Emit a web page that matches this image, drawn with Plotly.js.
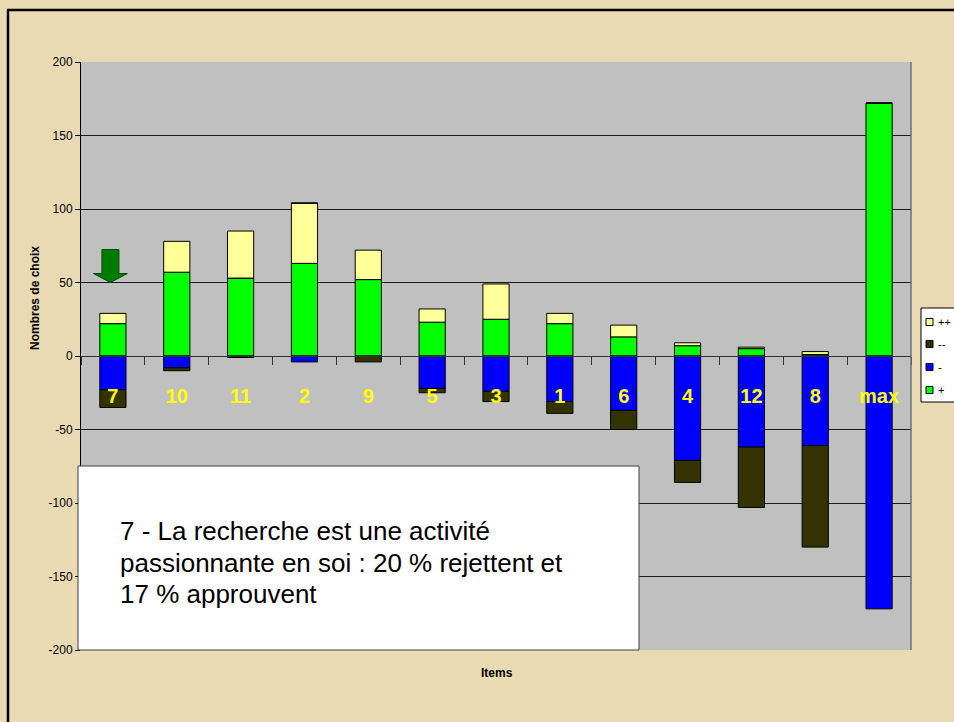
<!DOCTYPE html>
<html>
<head>
<meta charset="utf-8">
<script src="https://cdn.plot.ly/plotly-3.0.1.min.js"></script>
<style>
  html, body { margin: 0; padding: 0; background: #E9DAB4; }
  #chart { width: 954px; height: 722px; }
</style>
</head>
<body>
<div id="chart"></div>
<script>
// ---- data ----
const categories = ['7', '10', '11', '2', '9', '5', '3', '1', '6', '4', '12', '8', 'max'];
const plusVals      = [22, 57, 53, 63, 52, 23, 25, 22, 13, 7, 5, 1, 172];   // "+"
const plusPlusVals  = [7, 21, 32, 41, 20, 9, 24, 7, 8, 2, 1, 2, 0];          // "++"
const minusVals     = [-23, -8, 0, -4, 0, -22, -24, -31, -37, -71, -62, -61, -172]; // "-"
const minusMinusVals= [-12, -2, -1, 0, -4, -3, -7, -8, -13, -15, -41, -69, 0];      // "--"
const yTicks = [-200, -150, -100, -50, 0, 50, 100, 150, 200];
const seriesNames = ['+', '-', '++', '--'];
const seriesColors = ['#00FF00', '#0000FF', '#FFFF99', '#333300'];
const legendOrder = ['++', '--', '-', '+'];
const noteLines = [
  '7 - La recherche est une activité',
  'passionnante en soi : 20 % rejettent et',
  '17 % approuvent'
];
const yTitle = 'Nombres de choix';
const xTitle = 'Items';
const highlighted = '7';

const seriesVals = [plusVals, minusVals, plusPlusVals, minusMinusVals];

const traces = seriesVals.map((vals, i) => ({
  type: 'bar',
  x: categories,
  y: vals,
  name: seriesNames[i],
  showlegend: false,
  marker: { color: seriesColors[i], line: { color: '#000000', width: 1 } },
  hoverinfo: 'x+y+name'
}));

// plot area in pixels: left 81, right 911, top 62, bottom 650
const L = 81, R = 911, T = 62, B = 650;
const px = v => (v - L) / (R - L);
const py = v => (B - v) / (B - T);

const shapes = [
  // plot area right border
  { type: 'line', xref: 'paper', yref: 'paper', x0: 1, x1: 1, y0: 0, y1: 1, line: { color: '#707070', width: 1.5 } },
  // note box
  { type: 'rect', xref: 'paper', yref: 'paper', layer: 'above',
    x0: px(78), x1: px(639), y0: 0, y1: py(466),
    fillcolor: '#FFFFFF', line: { color: '#404040', width: 1 } },
  // green down arrow above the highlighted item
  { type: 'path', xref: 'x', yref: 'y', xsizemode: 'pixel', ysizemode: 'pixel',
    xanchor: categories.indexOf(highlighted), yanchor: 50, layer: 'above',
    path: 'M -2.5,0 L -19.5,9 L -11,9 L -11,33 L 6,33 L 6,9 L 14.5,9 Z',
    fillcolor: '#007A00', line: { color: '#004d00', width: 1 } },
  // outer frame (left and top)
  { type: 'line', xref: 'paper', yref: 'paper', x0: px(8), x1: px(8), y0: py(10), y1: py(730), line: { color: '#000000', width: 2.5 } },
  { type: 'line', xref: 'paper', yref: 'paper', x0: px(7), x1: px(960), y0: py(10), y1: py(10), line: { color: '#000000', width: 2.5 } },
  // legend box
  { type: 'rect', xref: 'paper', yref: 'paper', layer: 'above',
    x0: px(921), x1: px(980), y0: py(402), y1: py(308),
    fillcolor: '#FFFFFF', line: { color: '#000000', width: 1 } }
];

const annotations = [];
const legendRowY = [322, 344, 367, 390];
legendOrder.forEach((name, k) => {
  const i = seriesNames.indexOf(name);
  const cy = legendRowY[k];
  shapes.push({ type: 'rect', xref: 'paper', yref: 'paper', layer: 'above',
    x0: px(926), x1: px(933), y0: py(cy + 3.5), y1: py(cy - 3.5),
    fillcolor: seriesColors[i], line: { color: '#000000', width: 1 } });
  annotations.push({ xref: 'paper', yref: 'paper', x: px(936), y: py(cy), xanchor: 'left', yanchor: 'middle',
    showarrow: false, text: name,
    font: { family: 'Liberation Sans, Arial, sans-serif', size: 11, color: '#000000' } });
});

const noteY = [531, 563, 594];
noteLines.forEach((line, k) => {
  annotations.push({ xref: 'paper', yref: 'paper', x: px(118), y: py(noteY[k]), xanchor: 'left', yanchor: 'middle',
    align: 'left', showarrow: false, text: line,
    font: { family: 'Liberation Sans, Arial, sans-serif', size: 26, color: '#000000' } });
});

annotations.push(
  { xref: 'paper', yref: 'paper', x: px(35), y: py(298), xanchor: 'center', yanchor: 'middle',
    textangle: -90, showarrow: false, text: yTitle,
    font: { family: 'Liberation Sans, Arial, sans-serif', size: 12, color: '#000000', weight: 'bold' } },
  { xref: 'paper', yref: 'paper', x: px(497), y: py(673), xanchor: 'center', yanchor: 'middle',
    showarrow: false, text: xTitle,
    font: { family: 'Liberation Sans, Arial, sans-serif', size: 12, color: '#000000', weight: 'bold' } }
);

const layout = {
  width: 954,
  height: 722,
  margin: { l: L, r: 954 - R, t: T, b: 722 - B, autoexpand: false },
  paper_bgcolor: '#E9DAB4',
  plot_bgcolor: '#C0C0C0',
  barmode: 'relative',
  bargap: 0.59,
  showlegend: false,
  xaxis: {
    type: 'category',
    anchor: 'free',
    position: 0.5,
    showline: true,
    linecolor: '#333333',
    linewidth: 1,
    ticks: 'outside',
    tickson: 'boundaries',
    ticklen: 8,
    tickcolor: '#333333',
    tickwidth: 1,
    showgrid: false,
    zeroline: false,
    ticklabelstandoff: 22,
    tickfont: { family: 'Liberation Sans, Arial, sans-serif', size: 20, color: '#FFFF00', weight: 'bold' },
    fixedrange: true
  },
  yaxis: {
    range: [-200, 200],
    tickvals: yTicks,
    ticktext: yTicks.map(String),
    showline: true,
    linecolor: '#000000',
    linewidth: 1,
    ticks: 'outside',
    ticklen: 5,
    tickcolor: '#000000',
    showgrid: true,
    gridcolor: '#1a1a1a',
    gridwidth: 1,
    zeroline: false,
    tickfont: { family: 'Liberation Sans, Arial, sans-serif', size: 12, color: '#000000' },
    fixedrange: true
  },
  shapes: shapes,
  annotations: annotations
};

Plotly.newPlot('chart', traces, layout, { staticPlot: true, displayModeBar: false });
</script>
</body>
</html>
